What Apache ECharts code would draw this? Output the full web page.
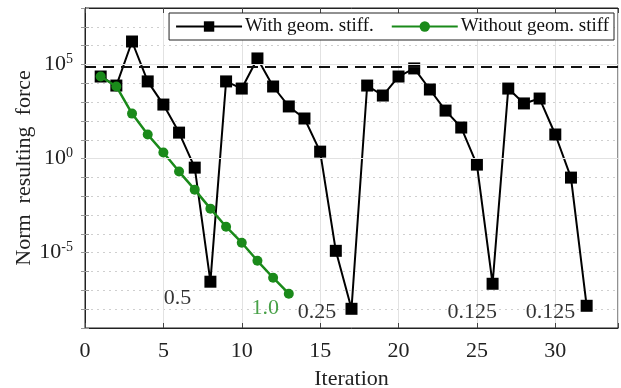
<!DOCTYPE html>
<html>
<head>
<meta charset="utf-8">
<script src="https://cdn.jsdelivr.net/npm/echarts@6/dist/echarts.min.js"></script>
<style>
  html, body { margin: 0; padding: 0; background: #fff; }
  #chart { width: 621px; height: 388px; }
</style>
</head>
<body>
<div id="chart"></div>
<script>
// iterations
const iterWith = [1,2,3,4,5,6,7,8,9,10,11,12,13,14,15,16,17,18,19,20,21,22,23,24,25,26,27,28,29,30,31,32];
const iterWithout = [1,2,3,4,5,6,7,8,9,10,11,12,13];
// log10 of the norm
const expWith = [4.36,3.88,6.22,4.1,2.87,1.38,-0.48,-6.54,4.1,3.72,5.32,3.83,2.77,2.13,0.37,-4.9,-7.98,
  3.88,3.35,4.36,4.79,3.67,2.55,1.65,-0.32,-6.65,3.72,2.93,3.19,1.28,-1.01,-7.82];
const expWithout = [4.36,3.83,2.39,1.28,0.32,-0.69,-1.65,-2.66,-3.62,-4.47,-5.43,-6.33,-7.18];

const tolUpper = 7.5e4;
const tolLower = 4.5e-7;
const majorLines = [1e-5, 1, 1e5];
const yLabelExps = [-5, 0, 5];

// step size annotations
const annotText = ['0.5', '1.0', '0.25', '0.125', '0.125'];
const annotX = [5.9, 11.5, 14.8, 24.7, 29.7];
const annotY = [3.6e-8, 1.15e-8, 6.7e-9, 6.7e-9, 6.7e-9];
const annotColor = ['#000', '#1a8a1a', '#000', '#000', '#000'];

const FONT = '"Liberation Serif", "DejaVu Serif", serif';
const green = '#1a8a1a';

const chart = echarts.init(document.getElementById('chart'));

const dataWith = iterWith.map((x, i) => [x, Math.pow(10, expWith[i])]);
const dataWithout = iterWithout.map((x, i) => [x, Math.pow(10, expWithout[i])]);

chart.setOption({
  animation: false,
  backgroundColor: '#fff',
  grid: {
    left: 85, right: 3, top: 8, bottom: 60,
    outerBoundsMode: 'none', containLabel: false,
    show: true, borderColor: '#222', borderWidth: 1, backgroundColor: 'transparent'
  },
  legend: {
    top: 13, right: 7,
    orient: 'horizontal',
    backgroundColor: '#fff',
    borderColor: '#222',
    borderWidth: 1,
    borderRadius: 0,
    padding: [4, 5, 4, 6],
    itemWidth: 66, itemHeight: 13, itemGap: 17,
    textStyle: { fontFamily: FONT, fontSize: 19, color: '#111', padding: [0, 0, 0, -2] },
    data: ['With geom. stiff.', 'Without geom. stiff']
  },
  xAxis: [{
    type: 'value', min: 0, max: 34, interval: 5,
    name: 'Iteration', nameLocation: 'middle', nameGap: 40,
    nameTextStyle: { fontFamily: FONT, fontSize: 22, color: '#222' },
    axisLine: { show: true, lineStyle: { color: '#222' } },
    axisTick: { show: true, inside: true, length: 5, lineStyle: { color: '#444' } },
    axisLabel: {
      fontFamily: FONT, fontSize: 22, color: '#222', margin: 12,
      formatter: v => (v % 5 === 0 ? String(v) : '')
    },
    splitLine: { show: true, lineStyle: { color: '#e2e2e2', width: 1 } }
  }, {
    type: 'value', min: 0, max: 34, interval: 5, position: 'top',
    axisLine: { show: true, lineStyle: { color: '#222' } },
    axisTick: { show: true, inside: true, length: 5, lineStyle: { color: '#444' } },
    axisLabel: { show: false },
    splitLine: { show: false }
  }],
  yAxis: [{
    type: 'log', logBase: 10, min: 1e-9, max: 1e8, interval: 1,
    name: 'Norm  resulting  force', nameLocation: 'middle', nameGap: 50,
    nameMoveOverlap: false,
    nameTextStyle: { fontFamily: FONT, fontSize: 22, color: '#222' },
    axisLine: { show: true, lineStyle: { color: '#222' } },
    axisTick: { show: true, inside: true, length: 4, lineStyle: { color: '#999' } },
    axisLabel: {
      margin: 12,
      formatter: v => {
        const e = Math.round(Math.log10(v));
        return yLabelExps.indexOf(e) >= 0 ? '10{sup|' + e + '}' : '';
      },
      rich: {
        sup: { fontFamily: FONT, fontSize: 14, verticalAlign: 'top', padding: [0, 0, 10, 0], color: '#222' }
      },
      fontFamily: FONT, fontSize: 22, color: '#222'
    },
    splitLine: { show: true, lineStyle: { color: '#cfcfcf', type: [2, 4], width: 1 } }
  }, {
    type: 'log', logBase: 10, min: 1e-9, max: 1e8, interval: 1, position: 'right',
    axisLine: { show: true, lineStyle: { color: '#222' } },
    axisTick: { show: true, inside: true, length: 4, lineStyle: { color: '#999' } },
    axisLabel: { show: false },
    splitLine: { show: false }
  }],
  series: [
    {
      name: 'major grid', type: 'line', data: [], z: 1, silent: true,
      markLine: {
        symbol: 'none', silent: true, label: { show: false },
        lineStyle: { color: '#e2e2e2', type: 'solid', width: 1 },
        data: majorLines.map(v => ({ yAxis: v }))
      }
    },
    {
      name: 'With geom. stiff.', type: 'line', data: dataWith, z: 3,
      symbol: 'rect', symbolSize: 12,
      lineStyle: { color: '#000', width: 2 },
      itemStyle: { color: '#000' },
      markLine: {
        symbol: 'none', silent: true, label: { show: false },
        lineStyle: { color: '#111', type: [11, 7], width: 2 },
        data: [{ yAxis: tolUpper }, { yAxis: tolLower }]
      }
    },
    {
      name: 'Without geom. stiff', type: 'line', data: dataWithout, z: 4,
      symbol: 'circle', symbolSize: 10,
      lineStyle: { color: green, width: 2.5 },
      itemStyle: { color: green }
    },
    {
      name: 'annotations', type: 'scatter', symbolSize: 0, z: 5, silent: true,
      data: annotX.map((x, i) => ({
        value: [x, annotY[i]],
        label: {
          show: true, formatter: annotText[i], position: 'inside',
          fontFamily: FONT, fontSize: 22, color: annotColor[i]
        }
      }))
    }
  ]
});
</script>
</body>
</html>
